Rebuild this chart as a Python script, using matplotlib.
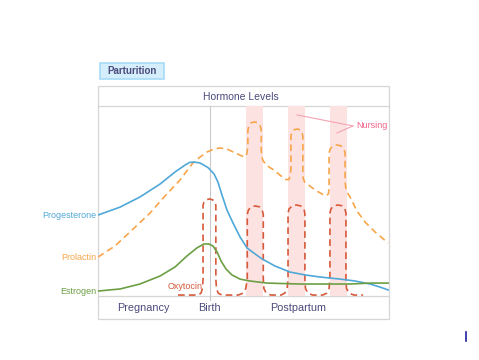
import matplotlib.pyplot as plt
from matplotlib.patches import Rectangle, FancyBboxPatch

plt.rcParams['font.family'] = ['Liberation Sans', 'DejaVu Sans']

# time axis 0-100 (pregnancy -> postpartum), level 0-100
prog_t = [0, 7.6, 14.4, 21.3, 26.5, 29.9, 31.5, 33.0, 35.1, 37.8, 39.9, 41.2, 42.6, 44.3, 46.4,
          48.8, 51.2, 54.0, 56.4, 60.8, 66.0, 71.1, 76.3, 83.2, 88.3, 93.5, 96.9, 99.7]
prog_v = [42.6, 46.8, 52.1, 58.9, 65.3, 68.9, 70.3, 70.5, 70.0, 67.6, 64.2, 60.0, 53.2, 45.3,
          38.4, 31.1, 25.3, 22.1, 19.5, 15.8, 12.6, 11.1, 10.0, 8.9, 7.9, 6.3, 4.7, 3.2]

estr_t = [0, 7.6, 14.4, 21.3, 26.5, 30.6, 34.0, 36.4, 38.1, 39.5, 40.9, 42.3, 44.0, 46.0,
          48.8, 52.2, 58.1, 69.4, 86.6, 93.5, 99.7]
estr_v = [2.6, 3.7, 6.3, 10.5, 15.3, 21.1, 25.3, 27.4, 27.4, 26.3, 23.2, 18.4, 14.2, 11.1,
          8.9, 7.9, 6.8, 6.3, 6.3, 6.8, 6.8]

prl_t = [0, 5.8, 11.0, 17.9, 23.0, 28.2, 32.6, 35.1, 37.5, 39.9, 41.9, 44.3, 47.1, 50.2,
         50.9, 51.2, 51.5,
         51.5, 51.8, 52.6, 53.8, 55.0, 55.8, 56.1,
         56.1, 56.2, 56.8, 58.1, 60.5, 63.2, 64.6, 65.6, 66.0, 66.3,
         66.3, 66.6, 67.4, 68.4, 69.4, 70.1, 70.4,
         70.4, 70.5, 71.0, 72.0, 74.9, 77.3, 78.6, 79.2, 79.4,
         79.4, 79.8, 80.8, 82.1, 83.4, 84.5, 84.9,
         84.9, 85.3, 86.6, 89.0, 91.8, 95.2, 99.7]
prl_v = [20.5, 26.3, 33.7, 43.7, 52.6, 61.1, 70.0, 73.2, 75.8, 77.4, 77.9, 77.4, 75.3, 73.2,
         73.8, 75.5, 79.0,
         87.2, 89.3, 91.2, 91.6, 91.2, 89.3, 87.2,
         77.0, 73.5, 71.0, 68.6, 66.2, 62.8, 61.3, 61.3, 63.0, 67.0,
         84.0, 86.2, 87.5, 87.9, 87.5, 86.2, 84.0,
         66.0, 62.0, 60.0, 58.8, 55.5, 53.4, 52.8, 53.8, 57.0,
         75.3, 77.4, 79.1, 79.5, 79.1, 77.4, 75.3,
         60.0, 55.5, 52.1, 44.7, 38.9, 33.7, 27.9]

oxy_t = [27.5, 34.4, 35.4, 35.9, 36.1,
         36.1, 36.4, 37.2, 38.3, 39.4, 40.2, 40.5,
         40.5, 40.7, 41.3, 42.6, 48.2, 49.8, 50.8, 51.3,
         51.3, 51.7, 52.7, 54.1, 55.5, 56.4, 56.8,
         56.8, 57.0, 57.8, 59.4, 62.9, 64.2, 65.0, 65.3,
         65.3, 65.6, 66.7, 68.2, 69.7, 70.8, 71.1,
         71.1, 71.3, 72.1, 73.8, 77.2, 78.6, 79.4, 79.7,
         79.7, 80.1, 81.1, 82.45, 83.8, 84.8, 85.2,
         85.2, 85.4, 86.2, 88.0, 91.1]
oxy_v = [0.5, 0.5, 1.5, 4.0, 9.0,
         47.7, 49.4, 50.6, 51.1, 50.6, 49.4, 47.7,
         9.0, 4.0, 1.5, 0.5, 0.5, 1.5, 4.0, 9.0,
         43.0, 45.3, 46.9, 47.4, 46.9, 45.3, 43.0,
         9.0, 4.0, 1.5, 0.5, 0.5, 1.5, 4.0, 9.0,
         43.3, 45.7, 47.4, 47.9, 47.4, 45.7, 43.3,
         9.0, 4.0, 1.5, 0.5, 0.5, 1.5, 4.0, 9.0,
         43.7, 46.0, 47.5, 47.9, 47.5, 46.0, 43.7,
         9.0, 4.0, 1.5, 0.5, 0.5]

birth_t = 38.5
nursing = [(50.9, 56.7), (65.3, 71.1), (79.7, 85.6)]

navy = '#4b4a7c'
c_prog = '#4fa8d8'
c_prl = '#f7a54b'
c_est = '#6c9f44'
c_oxy = '#d65a3a'
c_nurse = '#f26389'

fig = plt.figure(figsize=(4.79, 3.6), dpi=100)

# overlay in pixel coords for the panel frame / labels
bg = fig.add_axes([0, 0, 1, 1])
bg.set_xlim(0, 479)
bg.set_ylim(360, 0)
bg.axis('off')

bg.add_patch(FancyBboxPatch((100, 63), 64, 16, boxstyle='square,pad=0',
                            fc='#d5eefb', ec='#a6dbf6', lw=1.2))
bg.text(132, 71.5, 'Parturition', ha='center', va='center', fontsize=7,
        fontweight='bold', color=navy)

bg.add_patch(Rectangle((98, 86), 291, 233, fill=False, ec='#d6d6d6', lw=0.9))
bg.plot([98, 389], [106, 106], color='#d6d6d6', lw=0.9)
bg.plot([98, 389], [296, 296], color='#d6d6d6', lw=0.9)
bg.text(241, 97, 'Hormone Levels', ha='center', va='center', fontsize=7.5, color=navy)

bg.text(143, 308, 'Pregnancy', ha='center', va='center', fontsize=7.8, color=navy)
bg.text(209, 308, 'Birth', ha='center', va='center', fontsize=7.8, color=navy)
bg.text(298, 308, 'Postpartum', ha='center', va='center', fontsize=7.8, color=navy)

bg.plot([466, 466], [332, 341], color='#1f1fa0', lw=1.2)

# main plot area
ax = fig.add_axes([98 / 479, 64 / 360, 291 / 479, 190 / 360])
ax.set_xlim(0, 100)
ax.set_ylim(0, 100)
ax.axis('off')

for a, b in nursing:
    ax.axvspan(a, b, color='#fde2e2', lw=0, zorder=0)

ax.plot([birth_t, birth_t], [-2.2, 100], color='#c9c9c9', lw=0.8, clip_on=False, zorder=1)

ax.plot(prog_t, prog_v, color=c_prog, lw=1.2, zorder=3)
ax.plot(estr_t, estr_v, color=c_est, lw=1.2, zorder=3)
ax.plot(prl_t, prl_v, color=c_prl, lw=1.2, ls=(0, (4, 2.5)), zorder=2)
ax.plot(oxy_t, oxy_v, color=c_oxy, lw=1.2, ls=(0, (4, 2.5)), zorder=2, clip_on=False)

ax.text(-0.4, prog_v[0], 'Progesterone', ha='right', va='center', fontsize=6.5,
        color=c_prog)
ax.text(-0.4, prl_v[0], 'Prolactin', ha='right', va='center', fontsize=6.5, color=c_prl)
ax.text(-0.4, estr_v[0], 'Estrogen', ha='right', va='center', fontsize=6.5, color=c_est)
ax.text(36.0, 4.8, 'Oxytocin', ha='right', va='center', fontsize=6.5, color=c_oxy)

# nursing label with leader lines
ax.text(88.7, 89.5, 'Nursing', ha='left', va='center', fontsize=6.5, color=c_nurse)
ax.plot([68.4, 87.6], [95.3, 89.5], color='#f5a3b3', lw=0.8)
ax.plot([82.1, 87.6], [85.8, 89.5], color='#f5a3b3', lw=0.8)

fig.savefig('out.png', dpi=100)
